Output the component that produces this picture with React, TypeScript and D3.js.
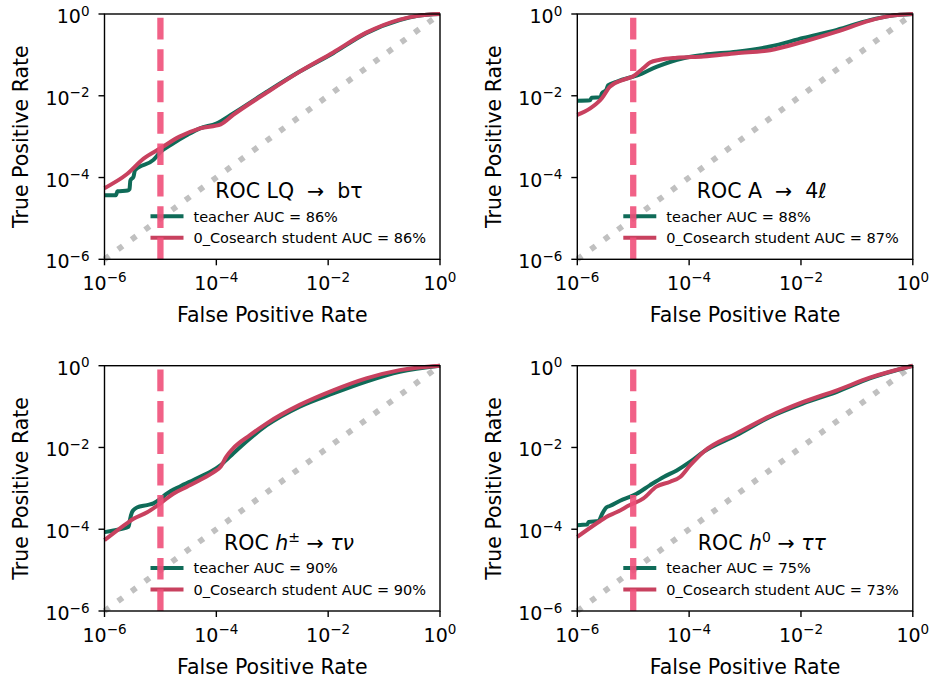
import React from 'react';
import * as d3 from 'd3';

// ROC points [false positive rate, true positive rate]
const lqTeacher = [
  [1e-6, 3.7e-5], [1.6e-6, 3.7e-5], [1.7e-6, 4.6e-5], [2.6e-6, 4.8e-5], [2.8e-6, 5.2e-5],
  [2.9e-6, 8.5e-5], [3.3e-6, 1.05e-4], [3.5e-6, 1.5e-4], [7.5e-6, 2.7e-4], [1e-5, 4.2e-4],
  [1.7e-5, 6.9e-4], [3e-5, 1.1e-3], [5.1e-5, 1.6e-3], [1e-4, 2.1e-3], [2e-4, 3.7e-3],
  [8e-4, 1.25e-2], [3.1e-3, 3.9e-2], [1.23e-2, 0.11], [4.8e-2, 0.34], [0.19, 0.71],
  [0.4, 0.9], [1, 1],
];
const lqStudent = [
  [1e-6, 5.5e-5], [2.5e-6, 1.2e-4], [5e-6, 2.9e-4], [1e-5, 5.2e-4], [2.2e-5, 1e-3],
  [5.1e-5, 1.6e-3], [1.2e-4, 2e-3], [2e-4, 3.4e-3], [8e-4, 1.2e-2], [3.1e-3, 3.9e-2],
  [1.23e-2, 0.115], [4.8e-2, 0.35], [0.19, 0.73], [0.4, 0.91], [1, 1],
];
const aTeacher = [
  [1e-6, 7.6e-3], [1.7e-6, 7.8e-3], [1.8e-6, 9e-3], [2.6e-6, 9.2e-3], [2.75e-6, 1.15e-2],
  [3.3e-6, 1.4e-2], [3.55e-6, 1.8e-2], [5e-6, 2.2e-2], [8.7e-6, 2.8e-2], [1.15e-5, 3.1e-2],
  [2.6e-5, 5.1e-2], [7.9e-5, 8.3e-2], [1.8e-4, 0.1], [7e-4, 0.12], [2.8e-3, 0.16],
  [1.1e-2, 0.26], [4.4e-2, 0.41], [0.17, 0.71], [0.4, 0.9], [1, 1],
];
const aStudent = [
  [1e-6, 3.4e-3], [1.7e-6, 4.9e-3], [2.75e-6, 8.7e-3], [3.8e-6, 1.65e-2], [6.6e-6, 2.45e-2],
  [1e-5, 3e-2], [1.5e-5, 4.7e-2], [2e-5, 6.5e-2], [3e-5, 7.6e-2], [6e-5, 8.5e-2],
  [1.8e-4, 9.1e-2], [7e-4, 0.11], [2.8e-3, 0.13], [1.1e-2, 0.21], [4.4e-2, 0.37],
  [0.17, 0.69], [0.4, 0.9], [1, 1],
];
const hpmTeacher = [
  [1e-6, 8.5e-5], [1.45e-6, 9.3e-5], [2.7e-6, 1.15e-4], [2.85e-6, 1.7e-4], [3.1e-6, 2.6e-4],
  [3.3e-6, 2.95e-4], [3.8e-6, 3.4e-4], [5.8e-6, 3.9e-4], [7.5e-6, 4.3e-4], [1e-5, 5.6e-4],
  [1.3e-5, 7.4e-4], [2.2e-5, 1.1e-3], [3.9e-5, 1.6e-3], [6.8e-5, 2.3e-3], [1.2e-4, 3.7e-3],
  [1.5e-4, 4.9e-3], [2e-4, 7.1e-3], [4e-4, 1.66e-2], [8e-4, 3.5e-2], [3.1e-3, 0.1],
  [1.23e-2, 0.21], [4.8e-2, 0.41], [0.19, 0.71], [1, 1],
];
const hpmStudent = [
  [1e-6, 5.4e-5], [2.7e-6, 1.5e-4], [3.3e-6, 1.8e-4], [5.8e-6, 2.6e-4], [1e-5, 4.3e-4],
  [1.7e-5, 7.4e-4], [3e-5, 1.1e-3], [5.1e-5, 1.6e-3], [9e-5, 2.5e-3], [1.2e-4, 3.4e-3],
  [1.5e-4, 5.9e-3], [2e-4, 9.5e-3], [4e-4, 2e-2], [8e-4, 3.9e-2], [3.1e-3, 0.11],
  [1.23e-2, 0.25], [4.8e-2, 0.49], [0.19, 0.78], [1, 1],
];
const h0Teacher = [
  [1e-6, 1.26e-4], [1.5e-6, 1.3e-4], [1.6e-6, 1.5e-4], [2.4e-6, 1.6e-4], [2.75e-6, 2.3e-4],
  [3.3e-6, 3.4e-4], [3.8e-6, 3.7e-4], [6.6e-6, 5.4e-4], [8.7e-6, 6.2e-4], [1.15e-5, 7.4e-4],
  [2e-5, 1.2e-3], [3.5e-5, 1.9e-3], [6e-5, 2.75e-3], [1.05e-4, 4.5e-3], [1.8e-4, 7.8e-3],
  [7e-4, 2e-2], [2.8e-3, 5.6e-2], [1.1e-2, 0.12], [4.4e-2, 0.23], [0.17, 0.49], [1, 1],
];
const h0Student = [
  [1e-6, 6.5e-5], [2.4e-6, 1.5e-4], [3.3e-6, 2e-4], [5e-6, 2.6e-4], [8.7e-6, 3.9e-4],
  [1.5e-5, 5.6e-4], [2.6e-5, 1.1e-3], [4.6e-5, 1.45e-3], [6.9e-5, 1.9e-3], [1.05e-4, 3.7e-3],
  [1.8e-4, 7.8e-3], [7e-4, 2.2e-2], [2.8e-3, 5.9e-2], [1.1e-2, 0.13], [4.4e-2, 0.25],
  [0.17, 0.51], [1, 1],
];

const teacherAuc = ['86%', '88%', '90%', '75%'];
const studentAuc = ['86%', '87%', '90%', '73%'];
const tickValues = [1e-6, 1e-4, 1e-2, 1];
const tickExps = ['−6', '−4', '−2', '0'];
const cutFpr = 1e-5;

const TEACHER = '#0f6b58';
const STUDENT = '#c8415f';
const font = 'DejaVu Sans, sans-serif';

// title pieces: [text, italic, superscript]
const titles: [string, boolean, boolean][][] = [
  [['ROC LQ  →  bτ', false, false]],
  [['ROC A  →  4', false, false], ['ℓ', true, false]],
  [['ROC ', false, false], ['h', true, false], ['±', false, true], [' → ', false, false], ['τν', true, false]],
  [['ROC ', false, false], ['h', true, false], ['0', false, true], [' → ', false, false], ['ττ', true, false]],
];

const panels = [
  { left: 104.5, top: 14, teacher: lqTeacher, student: lqStudent },
  { left: 577.3, top: 14, teacher: aTeacher, student: aStudent },
  { left: 104.5, top: 365.7, teacher: hpmTeacher, student: hpmStudent },
  { left: 577.3, top: 365.7, teacher: h0Teacher, student: h0Student },
];
const W = 335.5;
const H = 245.3;

function Panel({ p, i }) {
  const x = d3.scaleLog().domain([1e-6, 1]).range([p.left, p.left + W]);
  const y = d3.scaleLog().domain([1e-6, 1]).range([p.top + H, p.top]);
  const line = d3.line<number[]>().x(d => x(d[0])).y(d => y(d[1]));
  const curve = d3.line<number[]>().x(d => x(d[0])).y(d => y(d[1])).curve(d3.curveMonotoneX);
  const bottom = p.top + H;

  let sup = false;
  const title = titles[i].map(([t, it, s], k) => {
    const dy = s && !sup ? -8 : !s && sup ? 8 : 0;
    sup = s;
    return (
      <tspan key={k} dy={dy} fontStyle={it ? 'italic' : 'normal'} fontSize={s ? 14 : 20.5}
        style={{ whiteSpace: 'pre' }}>{t}</tspan>
    );
  });

  return (
    <g>
      {/* chance diagonal */}
      <path d={line([[1e-6, 1e-6], [1, 1]])} stroke="#c0c0c0" strokeWidth={5.8}
        strokeDasharray="5.8 10.9" fill="none" />
      <path d={curve(p.teacher)} stroke={TEACHER} strokeWidth={4} fill="none" strokeLinejoin="round" />
      <path d={curve(p.student)} stroke={STUDENT} strokeWidth={4} fill="none" strokeLinejoin="round" />

      {/* legend */}
      <text x={p.left + 184.5} y={bottom - 61.5} textAnchor="middle" fontFamily={font}
        fill="#000" style={{ whiteSpace: 'pre' }}>{title}</text>
      <line x1={p.left + 46} x2={p.left + 79} y1={bottom - 43} y2={bottom - 43} stroke={TEACHER} strokeWidth={4} />
      <line x1={p.left + 46} x2={p.left + 79} y1={bottom - 21.5} y2={bottom - 21.5} stroke={STUDENT} strokeWidth={4} />
      <text x={p.left + 89} y={bottom - 43 + 5.2} fontFamily={font} fontSize={14.5}>
        {`teacher AUC = ${teacherAuc[i]}`}
      </text>
      <text x={p.left + 89} y={bottom - 21.5 + 5.2} fontFamily={font} fontSize={14.5}>
        {`0_Cosearch student AUC = ${studentAuc[i]}`}
      </text>

      {/* working point */}
      <line x1={x(cutFpr)} x2={x(cutFpr)} y1={bottom} y2={p.top} stroke="#f0507a" strokeOpacity={0.9}
        strokeWidth={6.3} strokeDasharray="21.7 9.7" />

      <rect x={p.left} y={p.top} width={W} height={H} fill="none" stroke="#000" strokeWidth={1.4} />

      {tickValues.map((v, k) => (
        <g key={'x' + k}>
          <line x1={x(v)} x2={x(v)} y1={bottom} y2={bottom + 6} stroke="#000" strokeWidth={1.4} />
          <text x={x(v)} y={bottom + 30.5} textAnchor="middle" fontFamily={font} fontSize={19}>
            <tspan>10</tspan><tspan dy={-7.5} fontSize={13.5}>{tickExps[k]}</tspan>
          </text>
        </g>
      ))}
      {tickValues.map((v, k) => (
        <g key={'y' + k}>
          <line x1={p.left - 6} x2={p.left} y1={y(v)} y2={y(v)} stroke="#000" strokeWidth={1.4} />
          <text x={p.left - 15} y={y(v) + 9} textAnchor="end" fontFamily={font} fontSize={19}>
            <tspan>10</tspan><tspan dy={-7.5} fontSize={13.5}>{tickExps[k]}</tspan>
          </text>
        </g>
      ))}

      <text x={p.left + W / 2} y={bottom + 62.5} textAnchor="middle" fontFamily={font} fontSize={20.5}>
        False Positive Rate
      </text>
      <text transform={`translate(${p.left - 76.2},${p.top + H / 2}) rotate(-90)`} textAnchor="middle"
        fontFamily={font} fontSize={20.5}>
        True Positive Rate
      </text>
    </g>
  );
}

export default function App() {
  return (
    <svg width={931} height={682} style={{ position: 'absolute', left: 0, top: 0, background: '#fff' }}>
      <rect width={931} height={682} fill="#fff" />
      {panels.map((p, i) => <Panel key={i} p={p} i={i} />)}
    </svg>
  );
}
